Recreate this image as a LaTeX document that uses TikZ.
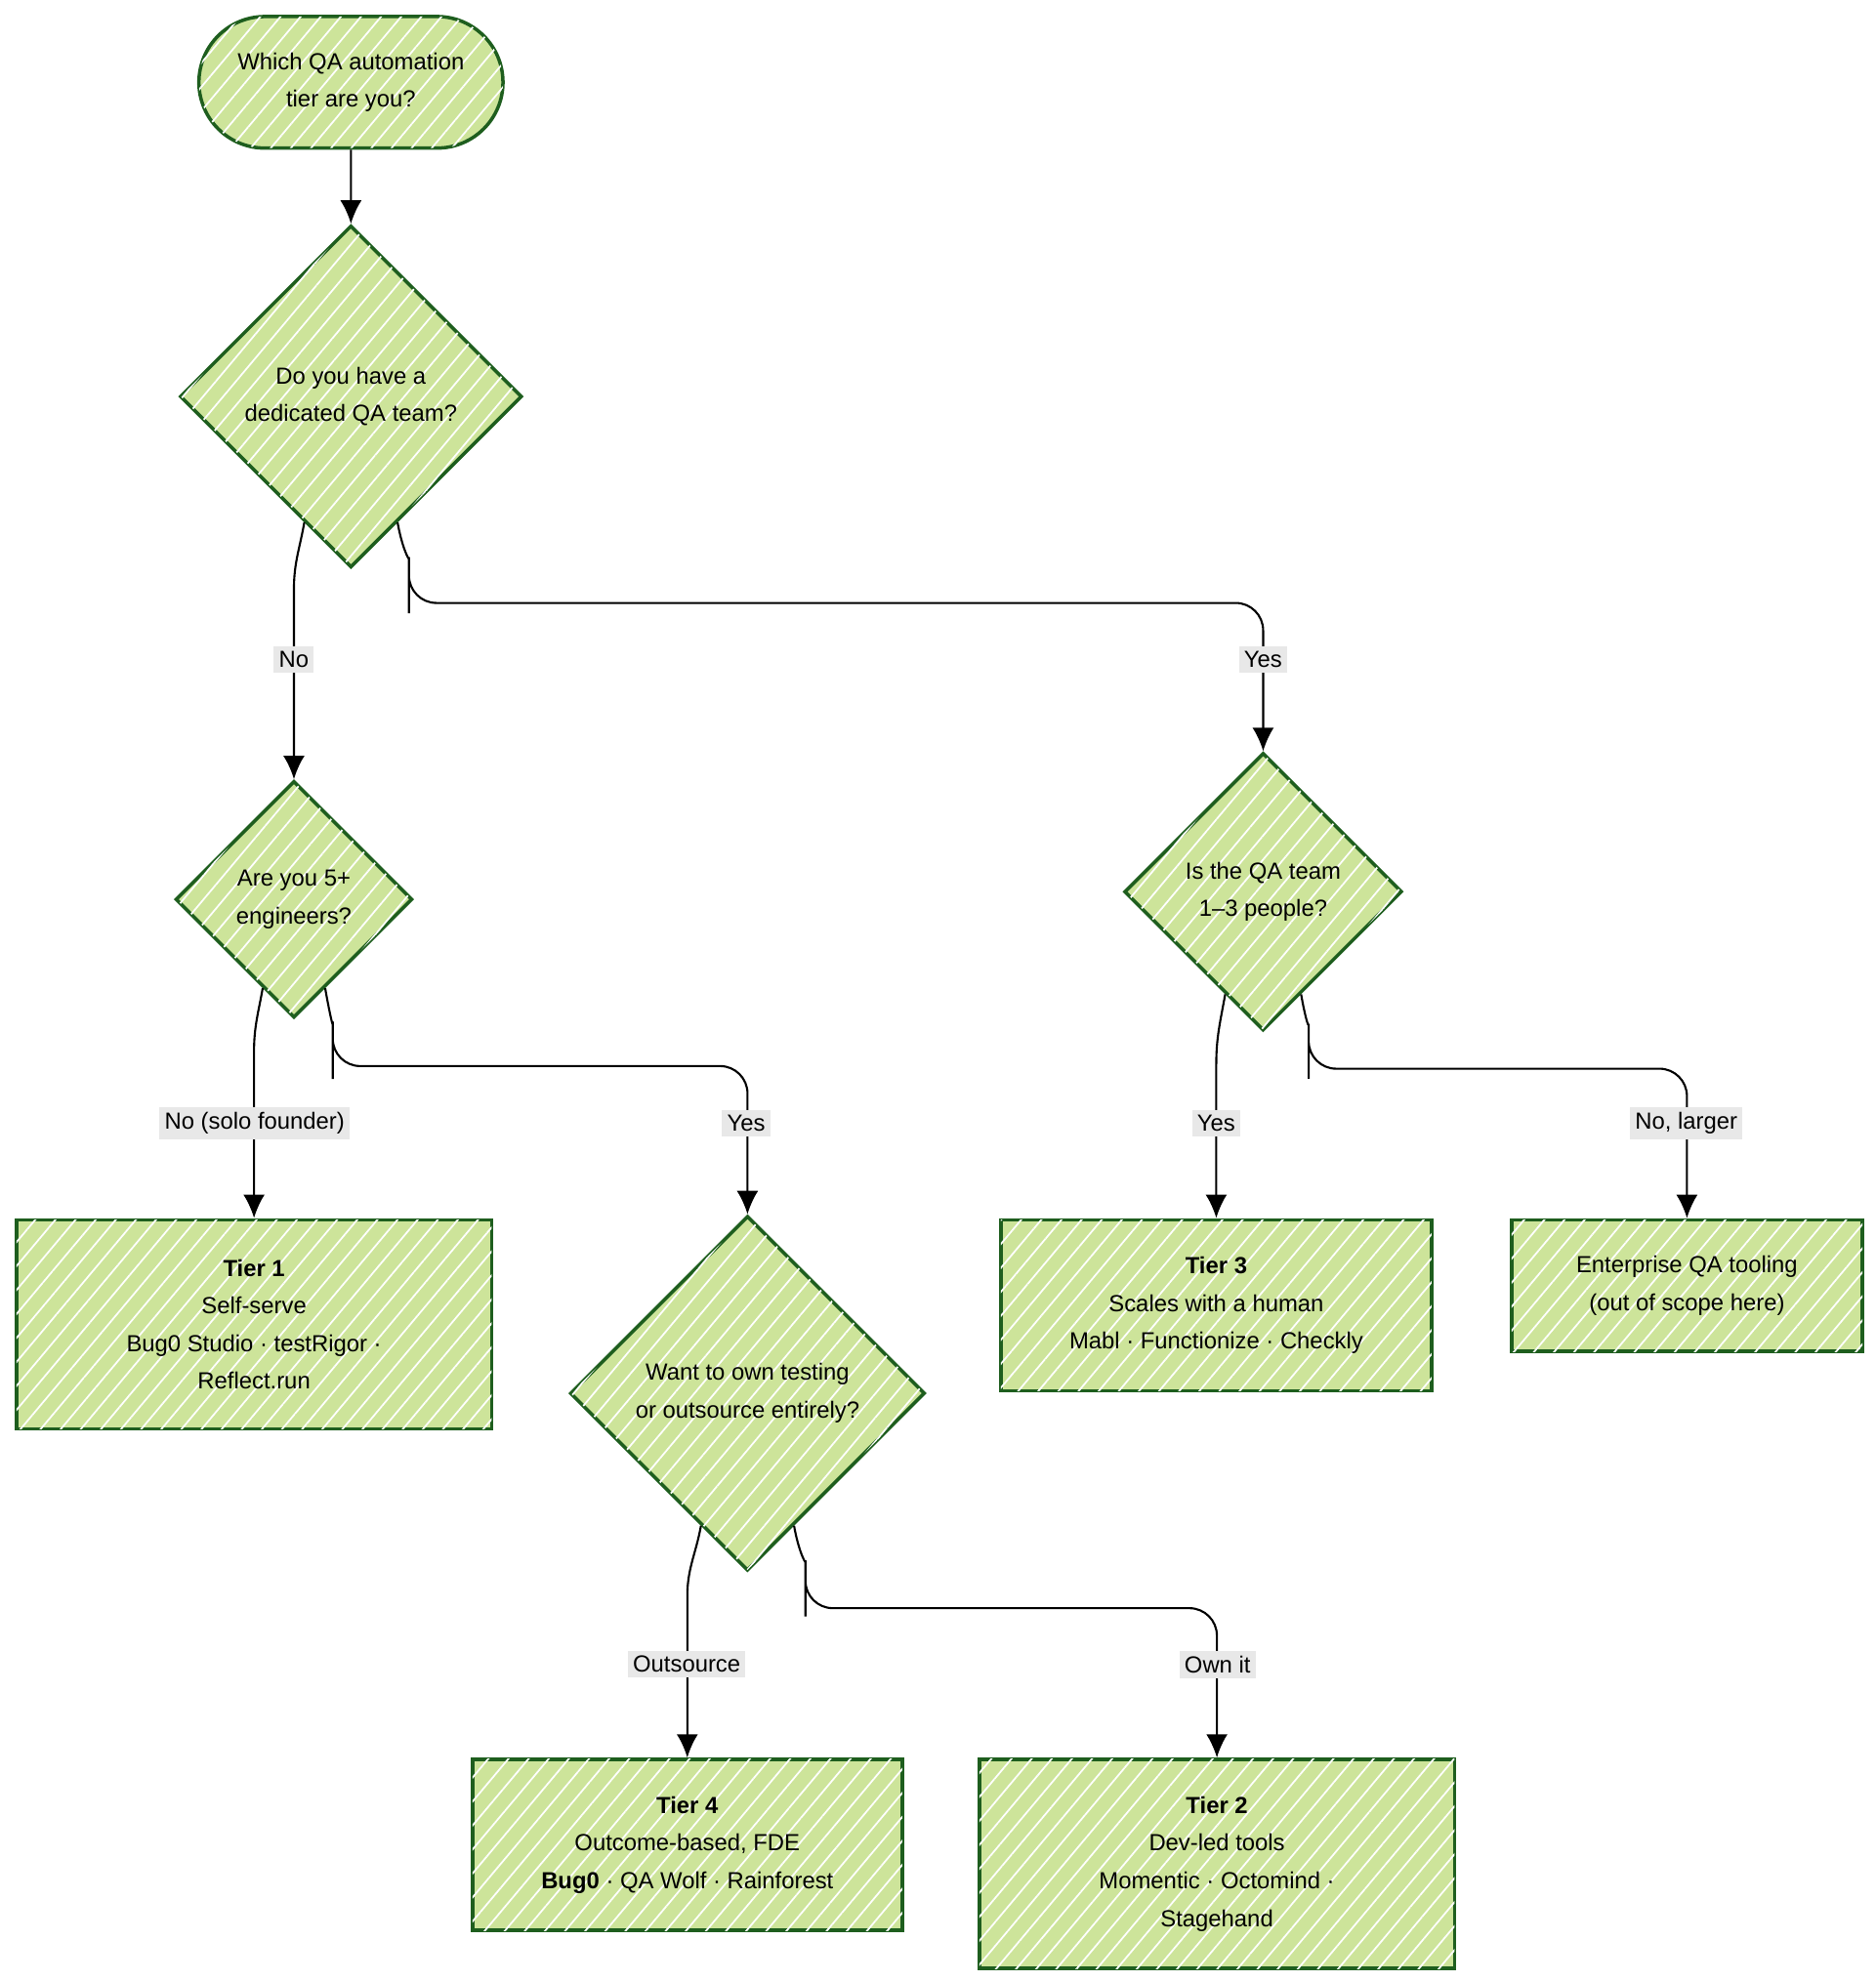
\documentclass[tikz,border=0pt]{standalone}
\usepackage{fontspec}
\setmainfont{Liberation Sans}
\usetikzlibrary{calc}
\usetikzlibrary{arrows.meta}
\usetikzlibrary{patterns.meta}
\usetikzlibrary{shapes.misc}
\usetikzlibrary{shapes.geometric}

\definecolor{leaf}{HTML}{CDE49A}
\definecolor{edge}{HTML}{1E5E1E}
\definecolor{tagbg}{HTML}{E8E8E8}

\tikzset{
  sketch/.style={draw=edge, line width=1pt, fill=leaf,
    postaction={pattern={Lines[angle=50,distance=4.5pt,line width=0.5pt]}, pattern color=white},
    font=\fontsize{6.8}{11}\selectfont, align=center, inner sep=0pt},
  ask/.style={sketch, diamond, aspect=1},
  tier/.style={sketch, rectangle},
  link/.style={draw=black, line width=0.6pt, -{Latex[length=2.4mm,width=2.2mm]}},
  tag/.style={fill=tagbg, inner sep=1.5pt, font=\fontsize{6.8}{8}\selectfont}
}

\begin{document}
\begin{tikzpicture}[x=0.013cm, y=0.013cm]
\useasboundingbox (0,0) rectangle (1480,-1564);

% questions
\node[sketch, rounded rectangle, minimum width=3.12cm, minimum height=1.35cm] (start) at (277,-65) {Which QA automation\\tier are you?};
\node[ask, minimum width=3.51cm, minimum height=3.51cm] (team) at (277,-313) {Do you have a\\dedicated QA team?};
\node[ask, minimum width=2.43cm, minimum height=2.43cm] (size) at (232,-710) {Are you 5+\\engineers?};
\node[ask, minimum width=2.85cm, minimum height=2.85cm] (small) at (997,-704) {Is the QA team\\1--3 people?};
\node[ask, minimum width=3.64cm, minimum height=3.64cm] (own) at (590,-1100) {Want to own testing\\or outsource entirely?};

% outcomes
\node[tier, minimum width=4.875cm, minimum height=2.145cm] (tierA) at (200.5,-1045.5) {\textbf{Tier 1}\\Self-serve\\Bug0 Studio · testRigor ·\\Reflect.run};
\node[tier, minimum width=4.42cm, minimum height=1.755cm] (tierC) at (960,-1030.5) {\textbf{Tier 3}\\Scales with a human\\Mabl · Functionize · Checkly};
\node[tier, minimum width=3.6cm, minimum height=1.35cm] (enter) at (1331.5,-1015) {Enterprise QA tooling\\(out of scope here)};
\node[tier, minimum width=4.41cm, minimum height=1.755cm] (tierD) at (542.5,-1456.5) {\textbf{Tier 4}\\Outcome-based, FDE\\\textbf{Bug0} · QA Wolf · Rainforest};
\node[tier, minimum width=4.875cm, minimum height=2.145cm] (tierB) at (960.5,-1471.5) {\textbf{Tier 2}\\Dev-led tools\\Momentic · Octomind ·\\Stagehand};

% connectors
\draw[link] (start) -- (team);
\coordinate (teamNo) at ($(team.south)!.27!(team.west)$);
\coordinate (teamYes) at ($(team.south)!.27!(team.east)$);
\coordinate (sizeNo) at ($(size.south)!.26!(size.west)$);
\coordinate (sizeYes) at ($(size.south)!.26!(size.east)$);
\coordinate (smallYes) at ($(small.south)!.27!(small.west)$);
\coordinate (smallNo) at ($(small.south)!.27!(small.east)$);
\coordinate (ownOut) at ($(own.south)!.26!(own.west)$);
\coordinate (ownIn) at ($(own.south)!.26!(own.east)$);

\draw[link] (teamNo) to[out=-100,in=90] (size.north |- 0,-465) -- (size.north);
\draw[link, rounded corners=8] (teamYes) to[out=-80,in=90] ++(9,-50) |- ($(small.north)+(0,117)$) -- (small.north);
\draw[link] (sizeNo) to[out=-100,in=90] (tierA.north |- 0,-830) -- (tierA.north);
\draw[link, rounded corners=8] (sizeYes) to[out=-80,in=90] ++(6,-50) |- ($(own.north)+(0,117)$) -- (own.north);
\draw[link] (smallYes) to[out=-100,in=90] (tierC.north |- 0,-840) -- (tierC.north);
\draw[link, rounded corners=8] (smallNo) to[out=-80,in=90] ++(6,-45) |- ($(enter.north)+(0,118)$) -- (enter.north);
\draw[link] (ownOut) to[out=-100,in=90] (tierD.north |- 0,-1260) -- (tierD.north);
\draw[link, rounded corners=8] (ownIn) to[out=-80,in=90] ++(9,-50) |- ($(tierB.north)+(0,118)$) -- (tierB.north);

% branch labels
\node[tag] (tagA) at (232,-521) {No};
\node[tag] (tagB) at (997,-521) {Yes};
\node[tag] (tagC) at (201,-887) {No (solo founder)};
\node[tag] (tagD) at (589,-887) {Yes};
\node[tag] (tagE) at (960,-887) {Yes};
\node[tag] (tagF) at (1331,-887) {No, larger};
\node[tag] (tagG) at (542,-1314) {Outsource};
\node[tag] (tagH) at (961,-1314) {Own it};
\end{tikzpicture}
\end{document}
